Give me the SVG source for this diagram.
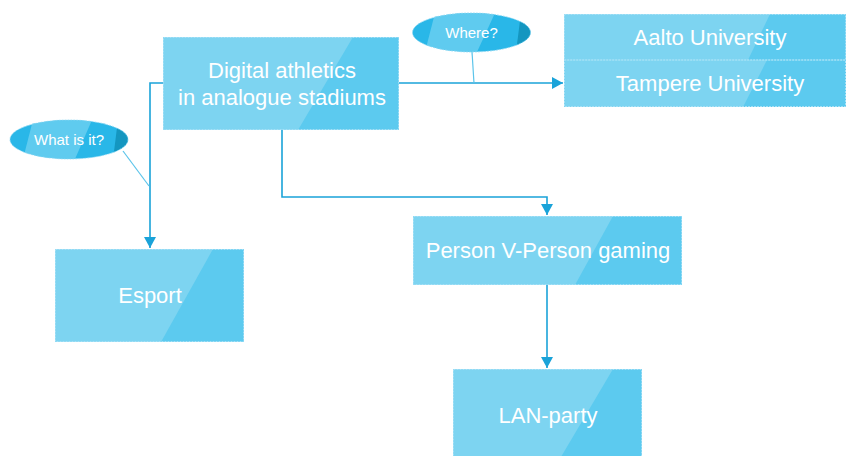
<svg xmlns="http://www.w3.org/2000/svg" width="847" height="456" viewBox="0 0 847 456">
<defs>
<style>
.bx{fill:#7DD4F1}
.dk{fill:#5CCAEF}
.bd{fill:none;stroke:#A6E1F6;stroke-width:1;stroke-dasharray:2 1}
.t{font-family:"Liberation Sans",Arial,sans-serif;font-size:22px;fill:#FFFFFF;text-anchor:middle}
.ts{font-family:"Liberation Sans",Arial,sans-serif;font-size:15px;fill:#FFFFFF;text-anchor:middle}
.cn{fill:none;stroke:#1AA3D9;stroke-width:1.6}
.pt{fill:none;stroke:#5BC4EA;stroke-width:1.2}
.eb{fill:#29B7E8}
.el{fill:#5FCBEF}
.ed{fill:#1496C0}
</style>
<marker id="ah" markerWidth="12" markerHeight="12" viewBox="0 0 12 12" refX="11" refY="6" orient="auto" markerUnits="userSpaceOnUse">
<path d="M0,0 L11,6 L0,12 Z" fill="#1AA3D9"/>
</marker>
<clipPath id="c1"><ellipse cx="69" cy="139.5" rx="59" ry="19.5"/></clipPath>
<clipPath id="c2"><ellipse cx="471.5" cy="32.5" rx="59" ry="19.5"/></clipPath>
</defs>

<g id="connectors">
<path class="cn" d="M163,83 H150 V248" marker-end="url(#ah)"/>
<path class="cn" d="M399,83 H563" marker-end="url(#ah)"/>
<path class="cn" d="M282,130 V197 H547 V215" marker-end="url(#ah)"/>
<path class="cn" d="M547,285 V368" marker-end="url(#ah)"/>
<path class="pt" d="M123,151 L149,186"/>
<path class="pt" d="M472,52 L474,83"/>
</g>

<g id="main">
<rect class="bx" x="163" y="37" width="236" height="93"/>
<polygon class="dk" points="353,37 399,37 399,130 298,130"/>
<rect class="bd" x="163.5" y="37.5" width="235" height="92"/>
<text class="t" x="282" y="78">Digital athletics</text>
<text class="t" x="282" y="105">in analogue stadiums</text>
</g>

<g id="universities">
<rect class="bx" x="564" y="14" width="282" height="46"/>
<polygon class="dk" points="770,14 846,14 846,60 748,60"/>
<rect class="bx" x="564" y="60" width="282" height="47"/>
<polygon class="dk" points="767,60 846,60 846,107 743,107"/>
<rect class="bd" x="564.5" y="14.5" width="281" height="45.5"/>
<rect class="bd" x="564.5" y="60" width="281" height="46.5"/>
<text class="t" x="710" y="45">Aalto University</text>
<text class="t" x="710" y="91">Tampere University</text>
</g>

<g id="esport">
<rect class="bx" x="55" y="249" width="189" height="93"/>
<polygon class="dk" points="213,249 244,249 244,342 161,342"/>
<rect class="bd" x="55.5" y="249.5" width="188" height="92"/>
<text class="t" x="150" y="303">Esport</text>
</g>

<g id="pvp">
<rect class="bx" x="413" y="216" width="269" height="69"/>
<polygon class="dk" points="613,216 682,216 682,285 575,285"/>
<rect class="bd" x="413.5" y="216.5" width="268" height="68"/>
<text class="t" x="548" y="258">Person V-Person gaming</text>
</g>

<g id="lan">
<rect class="bx" x="453" y="369" width="189" height="93"/>
<polygon class="dk" points="613,369 642,369 642,462 558,462"/>
<rect class="bd" x="453.5" y="369.5" width="188" height="92"/>
<text class="t" x="548" y="423">LAN-party</text>
</g>

<g id="what">
<g clip-path="url(#c1)">
<rect class="eb" x="10" y="120" width="118" height="39"/>
<polygon class="el" points="33,120 92,120 75,159 23,159"/>
<polygon class="ed" points="118,120 128,120 128,159 113,159"/>
</g>
<ellipse cx="69" cy="139.5" rx="59" ry="19.5" fill="none" stroke="#8FD8F3" stroke-width="0.8" stroke-dasharray="2 1"/>
<text class="ts" x="69" y="144.5">What is it?</text>
</g>

<g id="where">
<g clip-path="url(#c2)">
<rect class="eb" x="412" y="13" width="119" height="39"/>
<polygon class="el" points="435,13 495,13 477,52 425,52"/>
<polygon class="ed" points="521,13 531,13 531,52 516,52"/>
</g>
<ellipse cx="471.5" cy="32.5" rx="59" ry="19.5" fill="none" stroke="#8FD8F3" stroke-width="0.8" stroke-dasharray="2 1"/>
<text class="ts" x="471.5" y="37.5">Where?</text>
</g>
</svg>
